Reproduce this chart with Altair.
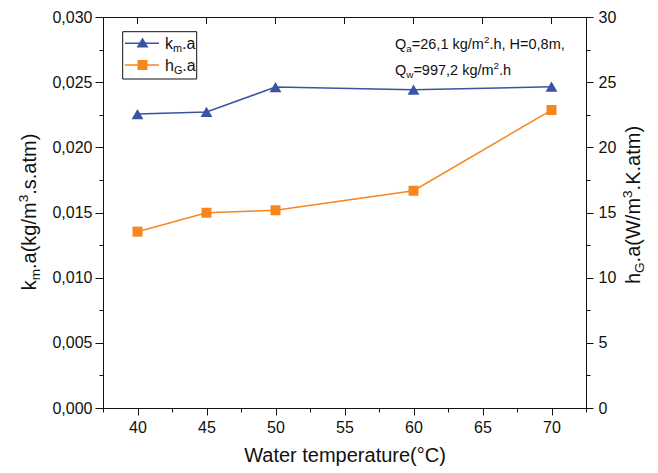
import altair as alt
import pandas as pd

# ---------------- data ----------------
temps = [40, 45, 50, 60, 70]
km_a = [0.02255, 0.02272, 0.02462, 0.02442, 0.02465]
hG_a = [13.53, 14.98, 15.17, 16.67, 22.86]

x_ticks = [37.5, 40, 42.5, 45, 47.5, 50, 52.5, 55, 57.5, 60, 62.5, 65, 67.5, 70, 72.5]
top_ticks = [40, 45, 50, 55, 60, 65, 70]
yl_ticks = [0, 0.0025, 0.005, 0.0075, 0.01, 0.0125, 0.015, 0.0175, 0.02, 0.0225, 0.025, 0.0275, 0.03]
yr_ticks = [0, 2.5, 5, 7.5, 10, 12.5, 15, 17.5, 20, 22.5, 25, 27.5, 30]

FONT = "Liberation Sans"
BLUE = "#3A54A4"
ORANGE = "#F7861F"
INK = "#111111"

W, H = 483, 391
PAD = {"left": 103, "top": 17, "right": 72, "bottom": 65}

df = pd.DataFrame({"T": temps, "km": km_a, "hg": hG_a})
one = pd.DataFrame({"k": [0]})
tick_df = pd.DataFrame({"T": top_ticks})

xscale = alt.Scale(domain=[37.5, 72.5], nice=False, zero=False)

major5 = "abs(datum.value/5 - round(datum.value/5)) < 0.01"
majorL = "abs(datum.value/0.005 - round(datum.value/0.005)) < 0.01"

x_axis = alt.Axis(
    values=x_ticks,
    labelExpr=f"{major5} ? datum.label : ''",
    tickSize={"condition": {"test": major5, "value": 7}, "value": 4},
    labelPadding=4,
    grid=False,
    title="Water temperature(°C)",
    titleFontSize=20,
    titleFont=FONT,
    titleFontWeight="normal",
    titleColor=INK,
    titlePadding=10,
    orient="bottom",
)

yl_axis = alt.Axis(
    values=yl_ticks,
    labelExpr=f"{majorL} ? replace(format(datum.value, '.3f'), '.', ',') : ''",
    tickSize={"condition": {"test": majorL, "value": 8}, "value": 4},
    labelPadding=3,
    grid=False,
    title=None,
    orient="left",
)

yr_axis = alt.Axis(
    values=yr_ticks,
    labelExpr=f"{major5} ? format(datum.value, 'd') : ''",
    tickSize={"condition": {"test": major5, "value": 7}, "value": 4},
    labelPadding=5,
    grid=False,
    title=None,
    orient="right",
)

base = alt.Chart(df)


def xe():
    return alt.X("T:Q", scale=xscale, axis=x_axis)


def yl():
    return alt.Y("km:Q", scale=alt.Scale(domain=[0, 0.03], nice=False), axis=yl_axis)


def yr():
    return alt.Y("hg:Q", scale=alt.Scale(domain=[0, 30], nice=False), axis=yr_axis)


blue_line = base.mark_line(color=BLUE, strokeWidth=1.5).encode(x=xe(), y=yl())
blue_pts = base.mark_point(shape="triangle-up", filled=True, size=140, color=BLUE, opacity=1).encode(x=xe(), y=yl())
blue = alt.layer(blue_line, blue_pts)

orange_line = base.mark_line(color=ORANGE, strokeWidth=1.5).encode(x=xe(), y=yr())
orange_pts = base.mark_point(shape="square", filled=True, size=100, color=ORANGE, opacity=1).encode(x=xe(), y=yr())
orange = alt.layer(orange_line, orange_pts)

top_tick_layer = alt.Chart(tick_df).mark_rule(color=INK, strokeWidth=1).encode(
    x=xe(), y=alt.value(0), y2=alt.value(7)
)

# --------- rich text helper (sub/superscripts) ---------
AW = {' ': 278, '(': 333, ')': 333, ',': 278, '.': 278, '/': 278, '=': 584, '°': 400,
      'C': 722, 'G': 778, 'H': 722, 'K': 667, 'Q': 778, 'W': 944,
      'a': 556, 'e': 556, 'g': 556, 'h': 556, 'k': 500, 'm': 833, 'p': 556,
      'r': 333, 's': 500, 't': 278, 'u': 556, 'w': 722}
for d in "0123456789":
    AW[d] = 556

SUBR = 0.68


def piece_size(size, kind):
    return size * SUBR if kind else size


def text_len(pieces, size):
    return sum(sum(AW.get(c, 556) for c in t) / 1000 * piece_size(size, k) for t, k in pieces)


def rich(pieces, x0, y0, size, angle=0, color=INK):
    layers = []
    off = 0.0
    for txt, kind in pieces:
        fs = piece_size(size, kind)
        shift = size * 0.22 if kind == "sub" else (-size * 0.40 if kind == "sup" else 0.0)
        if angle == 0:
            px, py = x0 + off, y0 + shift
        else:  # 270: reads upward
            px, py = x0 + shift, y0 - off
        layers.append(
            alt.Chart(one).mark_text(
                align="left", baseline="alphabetic", fontSize=fs, angle=angle,
                font=FONT, color=color,
            ).encode(x=alt.value(px), y=alt.value(py), text=alt.value(txt))
        )
        off += sum(AW.get(c, 556) for c in txt) / 1000 * fs
    return layers


# y-axis titles
TS = 20
left_title = [("k", ""), ("m", "sub"), (".a(kg/m", ""), ("3", "sup"), (".s.atm)", "")]
right_title = [("h", ""), ("G", "sub"), (".a(W/m", ""), ("3", "sup"), (".K.atm)", "")]
lt = rich(left_title, -67, 195 + text_len(left_title, TS) / 2, TS, angle=270)
rt = rich(right_title, 537, 188 + text_len(right_title, TS) / 2, TS, angle=270)

# annotation
AS = 14.5
ann1 = rich([("Q", ""), ("a", "sub"), ("=26,1 kg/m", ""), ("2", "sup"), (".h, H=0,8m,", "")], 292, 32, AS)
ann2 = rich([("Q", ""), ("w", "sub"), ("=997,2 kg/m", ""), ("2", "sup"), (".h", "")], 292, 58, AS)

# legend
LS = 16
legend_box = alt.Chart(one).mark_rect(filled=False, stroke=INK, strokeWidth=1).encode(
    x=alt.value(19.7), x2=alt.value(93.7), y=alt.value(14.7), y2=alt.value(62)
)
leg_l1 = alt.Chart(one).mark_rule(color=BLUE, strokeWidth=1.5).encode(
    x=alt.value(22), x2=alt.value(56), y=alt.value(26.3)
)
leg_l2 = alt.Chart(one).mark_rule(color=ORANGE, strokeWidth=1.5).encode(
    x=alt.value(22), x2=alt.value(56), y=alt.value(48)
)
leg_p1 = alt.Chart(one).mark_point(shape="triangle-up", filled=True, size=140, color=BLUE, opacity=1).encode(
    x=alt.value(39.5), y=alt.value(25.5)
)
leg_p2 = alt.Chart(one).mark_point(shape="square", filled=True, size=100, color=ORANGE, opacity=1).encode(
    x=alt.value(39.5), y=alt.value(48)
)
leg_t1 = rich([("k", ""), ("m", "sub"), (".a", "")], 62, 31.5, LS)
leg_t2 = rich([("h", ""), ("G", "sub"), (".a", "")], 62, 53.5, LS)

layers = [blue, orange, top_tick_layer, legend_box, leg_l1, leg_l2, leg_p1, leg_p2] + \
    leg_t1 + leg_t2 + ann1 + ann2 + lt + rt

chart = alt.layer(*layers).resolve_scale(y="independent").properties(
    width=W, height=H, padding=PAD, autosize=alt.AutoSizeParams(type="none"),
    background="white",
).configure_view(stroke=INK, strokeWidth=1).configure_axis(
    labelFont=FONT, labelFontSize=16, labelColor=INK,
    domainColor=INK, tickColor=INK, domainWidth=1, tickWidth=1,
)

chart.save("out.html", embed_options={"renderer": "svg", "actions": False})
